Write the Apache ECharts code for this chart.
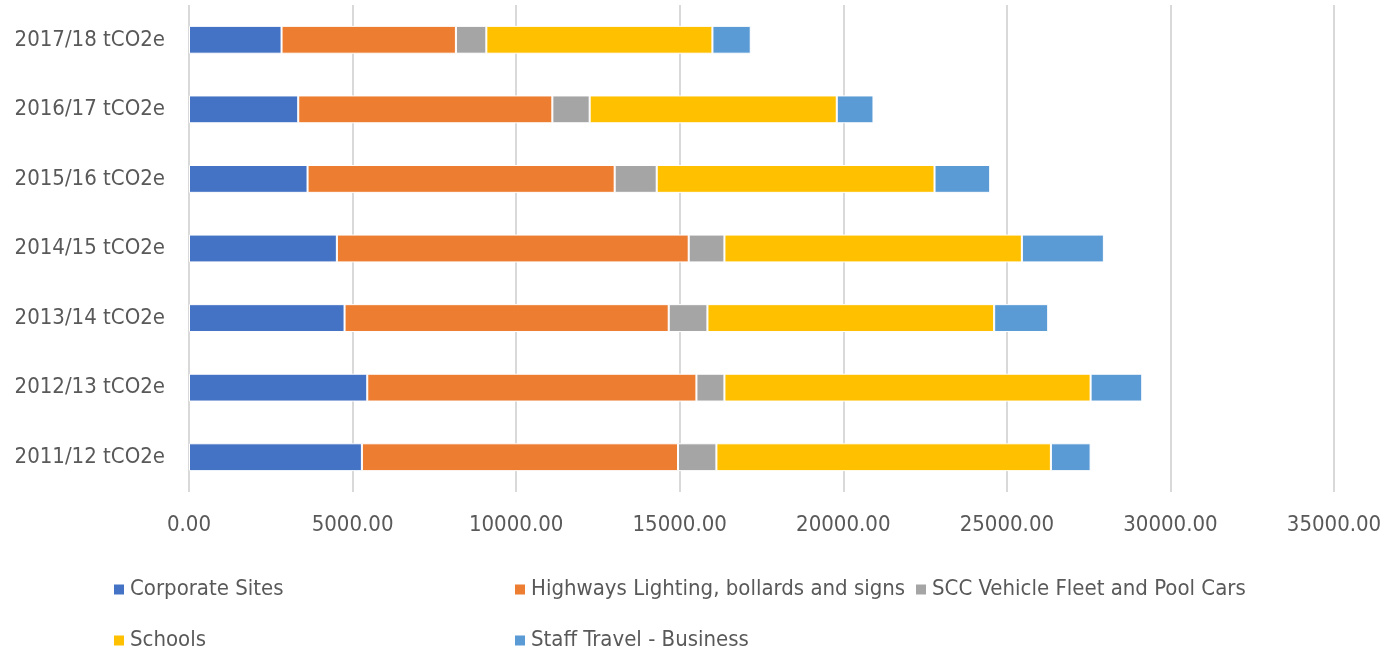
<!DOCTYPE html>
<html>
<head>
<meta charset="utf-8">
<script src="https://cdn.jsdelivr.net/npm/echarts@6/dist/echarts.min.js"></script>
<style>
html,body{margin:0;padding:0;background:#fff;}
#chart{width:1386px;height:654px;}
</style>
</head>
<body>
<div id="chart"></div>
<script>
const categories = ["2011/12 tCO2e","2012/13 tCO2e","2013/14 tCO2e","2014/15 tCO2e","2015/16 tCO2e","2016/17 tCO2e","2017/18 tCO2e"];
const corporateSites = [5285, 5449, 4755, 4520, 3624, 3339, 2829];
const highwaysLighting = [9663, 10062, 9909, 10755, 9388, 7768, 5330];
const vehicleFleet = [1174, 856, 1183, 1092, 1285, 1141, 930];
const schools = [10224, 11193, 8765, 9092, 8492, 7553, 6911];
const staffTravel = [1214, 1578, 1651, 2507, 1701, 1122, 1171];
const seriesNames = ["Corporate Sites","Highways Lighting, bollards and signs","SCC Vehicle Fleet and Pool Cars","Schools","Staff Travel - Business"];
const colors = ["#4472C4","#ED7D31","#A5A5A5","#FFC000","#5B9BD5"];
const xTicks = {min:0, max:35000, interval:5000};

const FONT = "'Liberation Sans Narrow','DejaVu Sans Condensed','Liberation Sans',sans-serif";
const chart = echarts.init(document.getElementById('chart'));
const dataSets = [corporateSites, highwaysLighting, vehicleFleet, schools, staffTravel];
chart.setOption({
  animation:false,
  color: colors,
  grid:{left:189, right:52, top:5, bottom:162, containLabel:false, outerBoundsMode:'none'},
  xAxis:{
    type:'value', min:xTicks.min, max:xTicks.max, interval:xTicks.interval,
    axisLine:{show:false}, axisTick:{show:false},
    splitLine:{show:true, lineStyle:{color:'#D9D9D9', width:2}},
    axisLabel:{color:'#595959', fontFamily:FONT, fontSize:22, margin:22, formatter:v=>v.toFixed(2)}
  },
  yAxis:{
    type:'category', data:categories,
    axisLine:{show:false}, axisTick:{show:false},
    axisLabel:{color:'#595959', fontFamily:FONT, fontSize:22, margin:24}
  },
  legend:{
    left:112, top:564, width:1230, itemGap:0, itemWidth:12, itemHeight:12, padding:0,
    icon:'rect',
    textStyle:{color:'#595959', fontFamily:FONT, fontSize:22, width:383, lineHeight:51},
    data: seriesNames
  },
  series: seriesNames.map((n,i)=>({
    name:n, type:'bar', stack:'total', data:dataSets[i],
    barCategoryGap:'60%',
    itemStyle:{borderColor:'#fff', borderWidth:1}
  }))
});
</script>
</body>
</html>
